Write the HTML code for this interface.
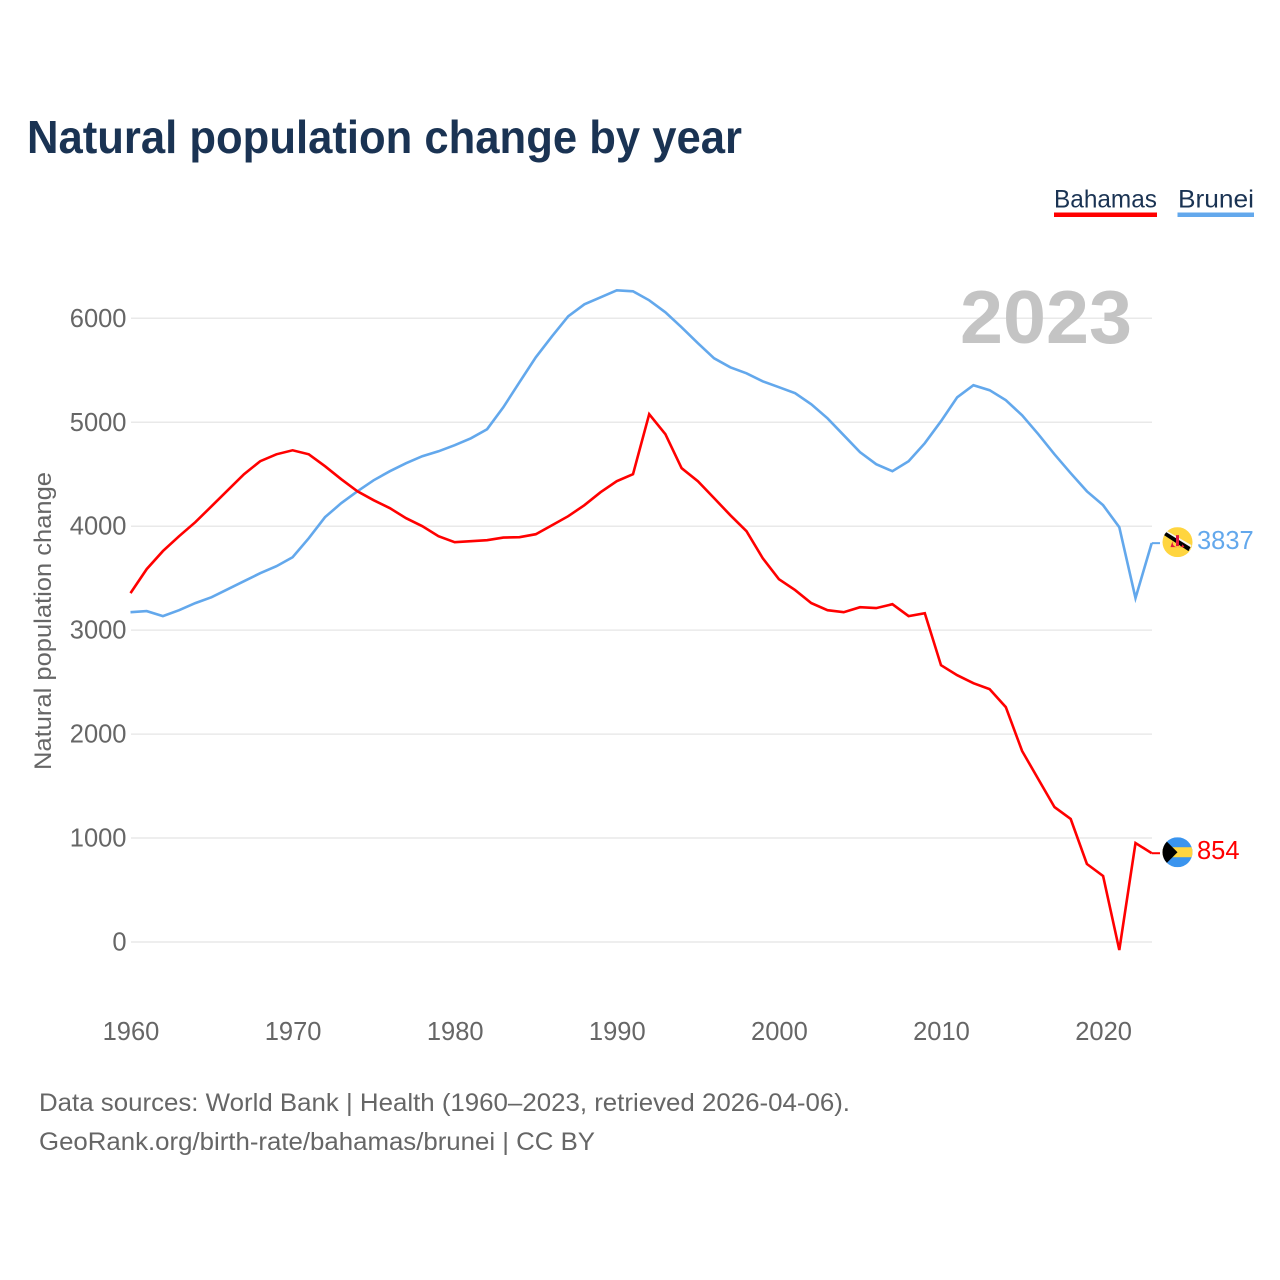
<!DOCTYPE html>
<html lang="en">
<head>
<meta charset="utf-8">
<title>Natural population change by year</title>
<style>
  html, body { margin: 0; padding: 0; background: #fff; }
  svg { display: block; font-family: "Liberation Sans", sans-serif; }
</style>
</head>
<body>
<svg id="chart" width="1280" height="1280" viewBox="0 0 1280 1280" xmlns="http://www.w3.org/2000/svg">
  <defs>
    <clipPath id="flag-clip-brunei"><circle cx="0" cy="0" r="15"></circle></clipPath>
    <clipPath id="flag-clip-bahamas"><circle cx="0" cy="0" r="15"></circle></clipPath>
  </defs>
  <text x="27" y="153" font-size="46" font-weight="700" fill="#1a3353" textLength="715" lengthAdjust="spacingAndGlyphs">Natural population change by year</text>

  <g>
    <g>
      <text x="1054" y="207.5" font-size="25" fill="#1a3353" textLength="103" lengthAdjust="spacingAndGlyphs">Bahamas</text>
      <rect x="1054" y="212.5" width="103" height="4.5" fill="#ff0000"></rect>
    </g>
    <g>
      <text x="1178" y="207.5" font-size="25" fill="#1a3353" textLength="76" lengthAdjust="spacingAndGlyphs">Brunei</text>
      <rect x="1177.5" y="212.5" width="76.5" height="4.5" fill="#63a8ec"></rect>
    </g>
  </g>

  <g id="grid"></g>
  <g id="y-ticks"></g>
  <g id="x-ticks"></g>

  <text transform="translate(51,621) rotate(-90)" text-anchor="middle" font-size="24.5" fill="#666666" textLength="298" lengthAdjust="spacingAndGlyphs">Natural population change</text>

  <text id="year-label" x="1132" y="343" text-anchor="end" font-size="75" font-weight="700" fill="#c4c4c4" textLength="172" lengthAdjust="spacingAndGlyphs">2023</text>

  <g id="series"></g>

  <g id="flag-brunei">
    <g clip-path="url(#flag-clip-brunei)">
      <rect x="-15" y="-15" width="30" height="30" fill="#ffd53f"></rect>
      <polygon points="-15,-8 -12,-12 14,3 12,8" fill="#f4f4f4"></polygon>
      <polygon points="-15,-8 -13,-11 13,5 11,9" fill="#000000"></polygon>
      <path d="M-5,-1 Q-5,5 0,5 Q5,5 5,2 L7,5 L-7,5 Z M-1.5,-7 L1.5,-7 L1.5,4 L-1.5,4 Z" fill="#e3173e"></path>
    </g>
  </g>
  <g id="flag-bahamas">
    <g clip-path="url(#flag-clip-bahamas)">
      <rect x="-15" y="-15" width="30" height="30" fill="#3a94ee"></rect>
      <rect x="-15" y="-5" width="30" height="10" fill="#ffd53f"></rect>
      <polygon points="-15,-15 0,0 -15,15" fill="#000000"></polygon>
    </g>
  </g>

  <g>
    <text x="39" y="1111" font-size="25" fill="#666666" textLength="811" lengthAdjust="spacingAndGlyphs">Data sources: World Bank | Health (1960–2023, retrieved 2026-04-06).</text>
    <text x="39" y="1150" font-size="25" fill="#666666" textLength="556" lengthAdjust="spacingAndGlyphs">GeoRank.org/birth-rate/bahamas/brunei | CC BY</text>
  </g>
</svg>

<script>
const startYear = 1960;
const yTickValues = [0, 1000, 2000, 3000, 4000, 5000, 6000];
const xTickValues = [1960, 1970, 1980, 1990, 2000, 2010, 2020];
const bahamasValues = [3356, 3587, 3760, 3904, 4038, 4192, 4346, 4500, 4625, 4692, 4730, 4692, 4577, 4452, 4336, 4250, 4173, 4077, 4000, 3904, 3846, 3856, 3865, 3890, 3894, 3923, 4010, 4096, 4202, 4327, 4433, 4500, 5077, 4885, 4558, 4433, 4270, 4106, 3952, 3692, 3490, 3385, 3260, 3192, 3173, 3221, 3212, 3250, 3135, 3163, 2663, 2567, 2490, 2433, 2260, 1837, 1567, 1298, 1183, 750, 635, -77, 952, 854];
const bruneiValues = [3173, 3183, 3135, 3192, 3260, 3317, 3394, 3471, 3548, 3615, 3702, 3885, 4087, 4221, 4336, 4442, 4529, 4606, 4673, 4721, 4779, 4846, 4933, 5144, 5385, 5625, 5827, 6019, 6135, 6202, 6269, 6260, 6173, 6058, 5913, 5760, 5615, 5529, 5471, 5394, 5337, 5279, 5173, 5038, 4875, 4712, 4596, 4529, 4625, 4798, 5010, 5240, 5356, 5308, 5212, 5067, 4885, 4692, 4510, 4336, 4202, 3990, 3308, 3837];

const NS = 'http://www.w3.org/2000/svg';
const xScale = function (year) { return 130.5 + (year - 1960) * 16.21; };
const yScale = function (value) { return 942 - value * 0.10395; };

function make(tag, attrs, parent) {
  const el = document.createElementNS(NS, tag);
  Object.keys(attrs).forEach(function (k) { el.setAttribute(k, attrs[k]); });
  parent.appendChild(el);
  return el;
}

const gridGroup = document.getElementById('grid');
const yTickGroup = document.getElementById('y-ticks');
const xTickGroup = document.getElementById('x-ticks');
const seriesGroup = document.getElementById('series');

yTickValues.forEach(function (v) {
  const line = make('line', { x1: 131, x2: 1152, y1: yScale(v), y2: yScale(v), stroke: '#e9e9e9', 'stroke-width': 1.5 }, gridGroup);
  
  
  const label = make('text', { x: 126.5, y: yScale(v) + 8.5, 'text-anchor': 'end', 'font-size': 25.5, fill: '#666666' }, yTickGroup);
  label.textContent = String(v);
  
  
});

xTickValues.forEach(function (y) {
  const label = make('text', { x: xScale(y) + 0.5, y: 1040, 'text-anchor': 'middle', 'font-size': 25.5, fill: '#666666' }, xTickGroup);
  label.textContent = String(y);
  
  
});

function drawSeries(values, color, lineName, leaderName, labelName, flagId) {
  const pts = values.map(function (v, i) { return xScale(startYear + i).toFixed(1) + ',' + yScale(v).toFixed(1); });
  const line = make('polyline', { points: pts.join(' '), fill: 'none', stroke: color, 'stroke-width': 2.6, 'stroke-linejoin': 'miter' }, seriesGroup);
  
  

  const last = values[values.length - 1];
  const lastX = xScale(startYear + values.length - 1);
  const lastY = yScale(last);
  const leader = make('line', { x1: lastX, x2: 1160, y1: lastY, y2: lastY, stroke: color, 'stroke-width': 2 }, seriesGroup);
  
  

  document.getElementById(flagId).setAttribute('transform', 'translate(1177.5,' + (lastY - 1) + ')');

  const label = make('text', { x: 1197, y: lastY + 6, 'font-size': 25.5, fill: color }, seriesGroup);
  label.textContent = String(last);
  
  
}

drawSeries(bruneiValues, '#63a8ec', 'brunei-line', 'brunei-leader-line', 'brunei-end-value', 'flag-brunei');
drawSeries(bahamasValues, '#ff0000', 'bahamas-line', 'bahamas-leader-line', 'bahamas-end-value', 'flag-bahamas');
</script>
</body>
</html>
